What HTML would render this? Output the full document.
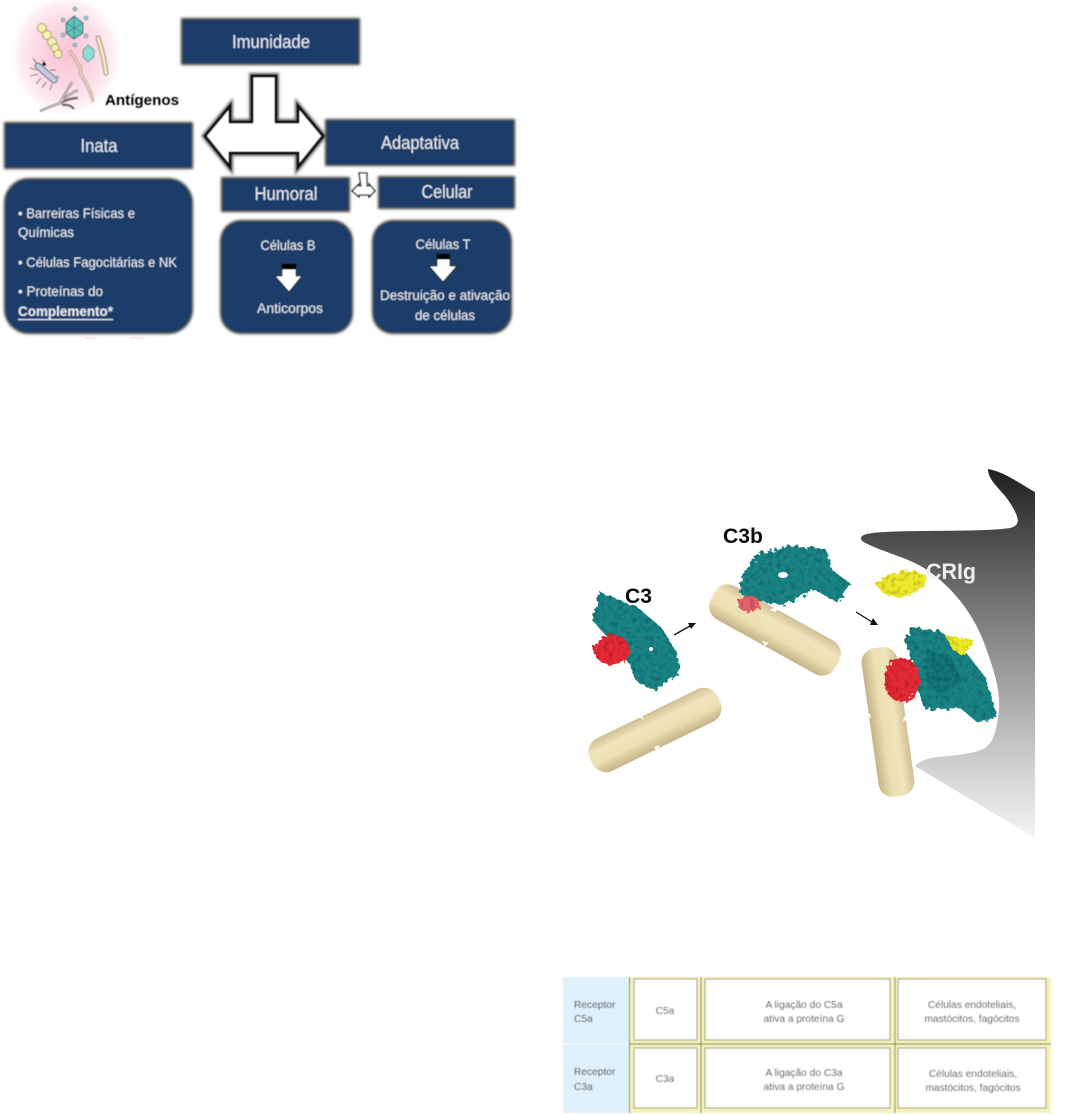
<!DOCTYPE html>
<html><head><meta charset="utf-8">
<style>html,body{margin:0;padding:0;background:#fff;width:1085px;height:1115px;overflow:hidden}svg{display:block}
text{font-family:"Liberation Sans",sans-serif}</style></head>
<body>
<svg width="1085" height="1115" viewBox="0 0 1085 1115" xmlns="http://www.w3.org/2000/svg">
<defs>
<filter id="sh" x="-10%" y="-20%" width="120%" height="140%"><feGaussianBlur stdDeviation="1.2"/></filter>
<radialGradient id="pink"><stop offset="0" stop-color="#f9c2d2"/><stop offset=".6" stop-color="#fbdce6"/><stop offset=".85" stop-color="#fdeef3"/><stop offset="1" stop-color="#fff"/></radialGradient>
<linearGradient id="gray" x1="0" y1="469" x2="0" y2="840" gradientUnits="userSpaceOnUse">
<stop offset="0" stop-color="#1f1f1f"/><stop offset=".25" stop-color="#5c5c5c"/><stop offset=".55" stop-color="#9c9c9c"/><stop offset=".8" stop-color="#d0d0d0"/><stop offset="1" stop-color="#f4f4f4"/></linearGradient>
<linearGradient id="cap" x1="0" y1="0" x2="0" y2="1"><stop offset="0" stop-color="#d0bf93"/><stop offset=".3" stop-color="#f0e4bb"/><stop offset=".65" stop-color="#ecdfb2"/><stop offset="1" stop-color="#c4b386"/></linearGradient>
<filter id="mol" x="-15%" y="-15%" width="130%" height="130%">
<feTurbulence type="fractalNoise" baseFrequency=".22" numOctaves="2" seed="4" result="n"/>
<feDisplacementMap in="SourceGraphic" in2="n" scale="8" result="d"/>
<feColorMatrix in="n" type="matrix" values="0 0 0 0 0  0 0 0 0 0  0 0 0 0 0  0 0 0 3 -1.35" result="a"/>
<feComposite in="a" in2="d" operator="in" result="spots"/>
<feFlood flood-color="#000" flood-opacity=".35"/><feComposite in2="spots" operator="in" result="dk"/>
<feMerge><feMergeNode in="d"/><feMergeNode in="dk"/></feMerge>
</filter>
<filter id="soft"><feGaussianBlur stdDeviation=".4"/></filter>
</defs>

<!-- top-left diagram -->
<g filter="url(#soft)">
<ellipse cx="66" cy="55" rx="55" ry="60" fill="url(#pink)"/>
<polygon points="74,16 83,23 83,33 74,39 66,33 66,23" fill="#5fc4b8" stroke="#35606a" stroke-width="1"/>
<path d="M74 16V39M66 23L83 33M83 23L66 33" stroke="#35606a" stroke-width=".6"/>
<g fill="#a8bfd0" stroke="#55708a" stroke-width=".6"><circle cx="75" cy="9" r="2"/><circle cx="63" cy="20" r="2"/><circle cx="86" cy="18" r="2"/><circle cx="63" cy="35" r="2"/><circle cx="86" cy="36" r="2"/><circle cx="75" cy="45" r="2"/></g>
<polygon points="88,45 94,50 94,57 88,62 83,57 83,50" fill="#8fdcd2" stroke="#5a9f9f"/>
<g fill="#f7f2b0" stroke="#99935f" stroke-width=".9"><circle cx="42" cy="28" r="4.5"/><circle cx="47" cy="35" r="4.5"/><circle cx="52" cy="42" r="4.5"/><circle cx="55" cy="48" r="4"/><circle cx="58" cy="54" r="4"/></g>
<path d="M98 38Q104 56 106 73" fill="none" stroke="#8a7f5a" stroke-width="5" stroke-linecap="round"/>
<path d="M98 38Q104 56 106 73" fill="none" stroke="#f1e7c4" stroke-width="3.2" stroke-linecap="round"/>
<path d="M69 50Q75 58 77 63Q82 68 80 73Q84 80 87 85Q91 92 93 102" fill="none" stroke="#8a6f5a" stroke-width="3"/>
<path d="M69 50Q75 58 77 63Q82 68 80 73Q84 80 87 85Q91 92 93 102" fill="none" stroke="#f7dfc8" stroke-width="1.7"/>
<path d="M38 66L54 80" stroke="#5a5f70" stroke-width="7" stroke-linecap="round"/>
<path d="M38 66L54 80" stroke="#c4cce0" stroke-width="5" stroke-linecap="round"/>
<path d="M33 58L37 64M43 60L46 66M30 68L36 70M30 76L38 74M36 84L41 78M42 88L46 82M50 90L52 84M56 76L60 78M50 70L56 70" stroke="#555" stroke-width=".9" fill="none"/>
<circle cx="44" cy="64" r="1.8" fill="#111"/>
<path d="M40 111Q52 106 60 103Q66 92 72 82M60 103Q68 94 78 90M60 103Q70 98 78 98M62 105Q70 104 74 109" fill="none" stroke="#6d6468" stroke-width="2.4"/>
<path d="M40 111Q52 106 60 103Q66 92 72 82M60 103Q68 94 78 90" fill="none" stroke="#d8d2d6" stroke-width="1.1"/>

<!-- big T arrow -->
<polygon points="252,76 276,76 276,122 298,122 298,106 323,136 298,167 298,153 230,153 230,167 205,136 230,106 230,122 252,122" fill="none" stroke="#666" stroke-width="6" filter="url(#sh)"/>
<polygon points="252,76 276,76 276,122 298,122 298,106 323,136 298,167 298,153 230,153 230,167 205,136 230,106 230,122 252,122" fill="#fff" stroke="#0c0c0c" stroke-width="3"/>
<polygon points="359,173 367,173 367,186 369,186 369,184 375,191 369,197 369,195 359,195 359,197 352,191 359,184 359,186 361,186 361,186" fill="#fff" stroke="#222" stroke-width="1.3"/>

<!-- boxes -->
<g fill="#3e3e3e" filter="url(#sh)">
<rect x="181" y="18" width="179" height="47"/><rect x="4" y="122" width="189" height="47"/><rect x="325" y="119" width="190" height="47"/>
<rect x="221" y="177" width="129" height="35"/><rect x="378" y="176" width="137" height="33"/>
<rect x="4" y="178" width="189" height="156" rx="25"/><rect x="220" y="220" width="133" height="114" rx="21"/><rect x="372" y="220" width="140" height="114" rx="21"/>
</g>
<g fill="#1c3c69">
<rect x="183" y="20" width="175" height="43"/><rect x="6" y="124" width="185" height="43"/><rect x="327" y="121" width="186" height="43"/>
<rect x="223" y="179" width="125" height="31"/><rect x="380" y="178" width="133" height="29"/>
<rect x="6" y="180" width="185" height="152" rx="23"/><rect x="222" y="222" width="129" height="110" rx="19"/><rect x="374" y="222" width="136" height="110" rx="19"/>
</g>
<g fill="#e9edf3" text-anchor="middle">
<text x="271" y="48" font-size="18" textLength="78" lengthAdjust="spacingAndGlyphs">Imunidade</text>
<text x="99" y="152" font-size="18" textLength="37" lengthAdjust="spacingAndGlyphs">Inata</text>
<text x="420" y="149" font-size="18" textLength="78" lengthAdjust="spacingAndGlyphs">Adaptativa</text>
<text x="286" y="200" font-size="18" textLength="63" lengthAdjust="spacingAndGlyphs">Humoral</text>
<text x="447" y="198" font-size="18" textLength="51" lengthAdjust="spacingAndGlyphs">Celular</text>
<text x="288" y="250" font-size="14" textLength="55" lengthAdjust="spacingAndGlyphs">Células B</text>
<text x="290" y="313" font-size="14" textLength="66" lengthAdjust="spacingAndGlyphs">Anticorpos</text>
<text x="443" y="249" font-size="14" textLength="55" lengthAdjust="spacingAndGlyphs">Células T</text>
<text x="445" y="300" font-size="14" textLength="130" lengthAdjust="spacingAndGlyphs">Destruição e ativação</text>
<text x="445" y="320" font-size="14" textLength="60" lengthAdjust="spacingAndGlyphs">de células</text>
</g>
<g fill="#e9edf3" font-size="14">
<text x="18" y="218" textLength="117" lengthAdjust="spacingAndGlyphs">• Barreiras Físicas e</text>
<text x="18" y="237" textLength="56" lengthAdjust="spacingAndGlyphs">Químicas</text>
<text x="18" y="267" textLength="159" lengthAdjust="spacingAndGlyphs">• Células Fagocitárias e NK</text>
<text x="18" y="296" textLength="85" lengthAdjust="spacingAndGlyphs">• Proteínas do</text>
<text x="18" y="316" font-weight="bold" textLength="95" lengthAdjust="spacingAndGlyphs">Complemento*</text>
<rect x="18" y="319" width="95" height="1.2"/>
</g>
<text x="105" y="105" font-size="15" font-weight="bold" fill="#000" textLength="74" lengthAdjust="spacingAndGlyphs">Antígenos</text>
<!-- down arrows -->
<polygon points="282,264 296,264 296,276 302,276 289,292 275,276 282,276" fill="#fff" stroke="#222" stroke-width="1"/>
<rect x="282" y="264" width="14" height="5.5" fill="#000"/>
<polygon points="437,254 450,254 450,266 457,266 443,282 429,266 437,266" fill="#fff" stroke="#222" stroke-width="1"/>
<rect x="437" y="254" width="13" height="5.5" fill="#000"/>
<path d="M85 338h12M130 338h14" stroke="#e8b8b8" stroke-width="1.2" opacity=".6"/>
</g>

<!-- molecular figure -->
<path d="M988 469C1005 472 1020 484 1035 492V838L915 766C925 755 945 758 970 753C988 750 993 742 996 728C1003 700 998 680 983 640C973 615 955 590 930 572C910 557 880 552 862 541C858 535 866 533 885 532C920 530 985 532 1010 528C1022 525 1018 517 1012 506C1003 490 988 482 988 469Z" fill="url(#gray)"/>

<g fill="url(#cap)">
<g transform="translate(655,730) rotate(-26)"><rect x="-71" y="-18" width="142" height="36" rx="15"/></g>
<g transform="translate(775,630) rotate(29)"><rect x="-71" y="-19" width="142" height="38" rx="15"/></g>
<g transform="translate(888,722) rotate(82)"><rect x="-75" y="-18" width="150" height="36" rx="14"/></g>
</g>
<g fill="#fff">
<polygon points="639,717 644,720 641,714"/><polygon points="654,747 657,751 660,745"/>
<polygon points="770,610 776,612 778,606"/><polygon points="762,641 765,646 769,643"/>
<polygon points="868,716 871,718 870,713"/><polygon points="904,716 907,719 903,722"/>
</g>

<g filter="url(#mol)">
<g fill="#1f8384">
<path d="M600 592L613 598L637 607L662 628L678 655L678 675L655 690L637 682L628 662L608 638L592 620Z"/>
<path d="M738 592L745 568L760 553L790 546L826 549L832 570L850 583L838 603L815 590L783 605L752 600Z"/>
<path d="M904 640L914 627L942 632L968 655L986 678L997 716L978 723L960 708L925 710L918 690L912 660Z"/>
</g>
<path d="M925 650L950 655L962 680L940 695L925 680Z" fill="#146a6c" opacity=".6"/>
<ellipse cx="612" cy="650" rx="18" ry="15" fill="#e32c35"/>
<ellipse cx="749" cy="604" rx="11" ry="8" fill="#e5626a"/>
<ellipse cx="902" cy="680" rx="18" ry="22" fill="#e32c35"/>
<path d="M875 584L890 574L912 570L926 575L925 587L903 598L884 594Z" fill="#eeea2a"/>
<path d="M945 635L976 641L963 656L953 650Z" fill="#eeea2a"/>
</g>
<ellipse cx="783" cy="575" rx="5" ry="3" fill="#fff"/>
<circle cx="651" cy="649" r="2" fill="#fff"/>

<g stroke="#111" stroke-width="1.3" fill="#111">
<path d="M674 635L690 626" fill="none"/><polygon points="696,623 688,623 691,629" stroke="none"/>
<path d="M856 612L872 622" fill="none"/><polygon points="878,625 870,625 873,618" stroke="none"/>
</g>
<text x="625" y="603" font-size="21" font-weight="bold" fill="#0c0c0c" textLength="27" lengthAdjust="spacingAndGlyphs">C3</text>
<text x="723" y="543" font-size="21" font-weight="bold" fill="#0c0c0c" textLength="40" lengthAdjust="spacingAndGlyphs">C3b</text>
<text x="926" y="579" font-size="22" font-weight="bold" fill="#eeeeee" textLength="50" lengthAdjust="spacingAndGlyphs">CRIg</text>

<!-- table -->
<g filter="url(#soft)">
<rect x="563" y="977" width="488" height="136" fill="#f6f2bc"/>
<rect x="563" y="977" width="66" height="136" fill="#dff0fa"/>
<path d="M563 1044H629" stroke="#fff" stroke-width="1"/>
<path d="M629.5 977V1113M701 977V1113M895 977V1113M629 1044H1051" stroke="#66664a" stroke-width=".9"/>
<g fill="#fff" stroke="#99916a" stroke-width="1">
<rect x="634" y="979" width="63" height="61"/><rect x="705" y="979" width="185" height="61"/><rect x="898" y="979" width="148" height="61"/>
<rect x="634" y="1048" width="63" height="60"/><rect x="705" y="1048" width="185" height="60"/><rect x="898" y="1048" width="148" height="60"/>
</g>
<g font-size="10.2" fill="#3c3c3c">
<text x="574" y="1008">Receptor</text><text x="574" y="1022">C5a</text>
<text x="574" y="1075">Receptor</text><text x="574" y="1090">C3a</text>
</g>
<g font-size="10.2" fill="#3c3c3c" text-anchor="middle">
<text x="665" y="1014">C5a</text><text x="665" y="1082">C3a</text>
<text x="804" y="1008">A ligação do C5a</text><text x="804" y="1022">ativa a proteína G</text>
<text x="804" y="1076">A ligação do C3a</text><text x="804" y="1090">ativa a proteína G</text>
<text x="972" y="1008">Células endoteliais,</text><text x="972" y="1022">mastócitos, fagócitos</text>
<text x="973" y="1077">Células endoteliais,</text><text x="973" y="1091">mastócitos, fagócitos</text>
</g>
</g>
</svg>
</body></html>
